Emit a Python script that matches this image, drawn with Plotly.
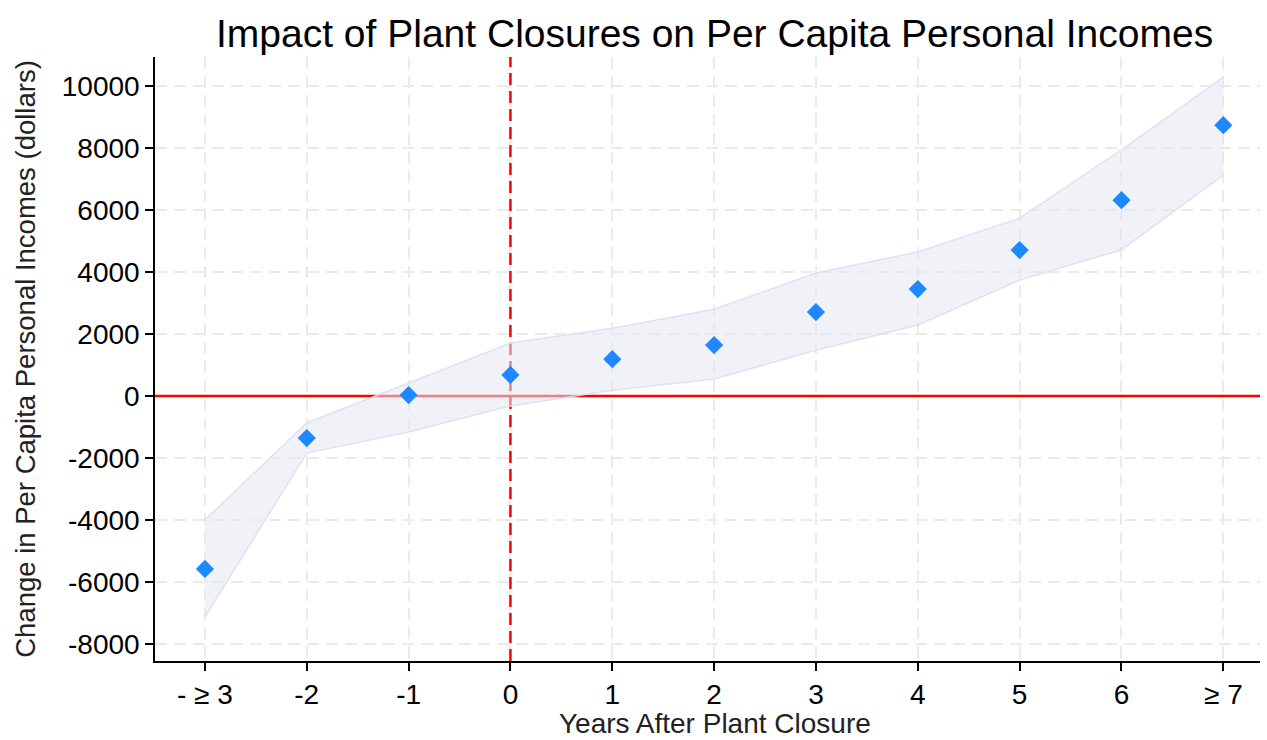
import plotly.graph_objects as go

# Event-study estimates: change in per capita personal income by year relative to closure
periods = ["- ≥ 3", "-2", "-1", "0", "1", "2", "3", "4", "5", "6", "≥ 7"]
estimate = [-5580, -1355, 30, 680, 1190, 1645, 2710, 3450, 4710, 6320, 8740]
ci_upper = [-4000, -870, 420, 1710, 2190, 2800, 3970, 4650, 5740, 7940, 10290]
ci_lower = [-7130, -1840, -1160, -320, 190, 550, 1480, 2290, 3740, 4720, 7130]
y_ticks = [-8000, -6000, -4000, -2000, 0, 2000, 4000, 6000, 8000, 10000]

x_pos = list(range(len(periods)))
closure_period = periods.index("0")
x_range = [-0.49, len(periods) - 1 + 0.36]
y_range = [-8550, 10940]
font_family = "Liberation Sans, Arial, sans-serif"

fig = go.Figure()

# Reference lines (drawn first so the band sits over them): zero effect and closure year
fig.add_trace(go.Scatter(
    x=x_range, y=[0, 0], mode="lines",
    line=dict(color="#FF0000", width=2.5),
    hoverinfo="skip", showlegend=False, cliponaxis=True,
))
fig.add_trace(go.Scatter(
    x=[closure_period, closure_period], y=y_range, mode="lines",
    line=dict(color="#FF0000", width=2.5, dash="12px,6px"),
    hoverinfo="skip", showlegend=False, cliponaxis=True,
))

# Confidence band: upper edge, then lower edge filled back to it
fig.add_trace(go.Scatter(
    x=x_pos, y=ci_upper, mode="lines",
    line=dict(color="rgba(218,224,237,0.9)", width=1.5),
    hoverinfo="skip", showlegend=False,
))
fig.add_trace(go.Scatter(
    x=x_pos, y=ci_lower, mode="lines", fill="tonexty",
    fillcolor="rgba(228,231,240,0.55)",
    line=dict(color="rgba(218,224,237,0.9)", width=1.5),
    hoverinfo="skip", showlegend=False,
))

# Point estimates
fig.add_trace(go.Scatter(
    x=x_pos, y=estimate, mode="markers",
    marker=dict(symbol="diamond", size=14, color="#1E88FF"),
    showlegend=False,
))

axis_common = dict(
    showline=True, linecolor="black", linewidth=1.5,
    ticks="outside", ticklen=8, tickcolor="black", tickwidth=1.5,
    showgrid=True, gridcolor="#EBEBEB", gridwidth=2, griddash="12px,7px",
    zeroline=False, automargin=False,
    tickfont=dict(size=28, color="black", family=font_family),
)

fig.update_xaxes(
    **axis_common,
    tickvals=x_pos, ticktext=periods,
    range=x_range,
)
fig.update_yaxes(
    **axis_common,
    tickvals=y_ticks, ticktext=[str(v) for v in y_ticks],
    range=y_range,
    title=dict(text="Change in Per Capita Personal Incomes (dollars)",
               font=dict(size=27.5, color="#222", family=font_family), standoff=18),
)

# x-axis title placed as a paper annotation, resting on the bottom edge of the page
fig.add_annotation(
    text="Years After Plant Closure", xref="paper", yref="paper",
    x=0.507, y=-0.1305, xanchor="center", yanchor="bottom", showarrow=False,
    borderpad=0, font=dict(size=28, color="#222", family=font_family),
)

fig.update_layout(
    width=1267, height=740,
    margin=dict(l=155, r=7, t=57, b=79),
    paper_bgcolor="white", plot_bgcolor="white",
    title=dict(text="Impact of Plant Closures on Per Capita Personal Incomes",
               x=0.564, xanchor="center", y=0.955, yanchor="middle",
               font=dict(size=39, color="black", family=font_family)),
    font=dict(family=font_family),
)

fig.write_html("out.html")
